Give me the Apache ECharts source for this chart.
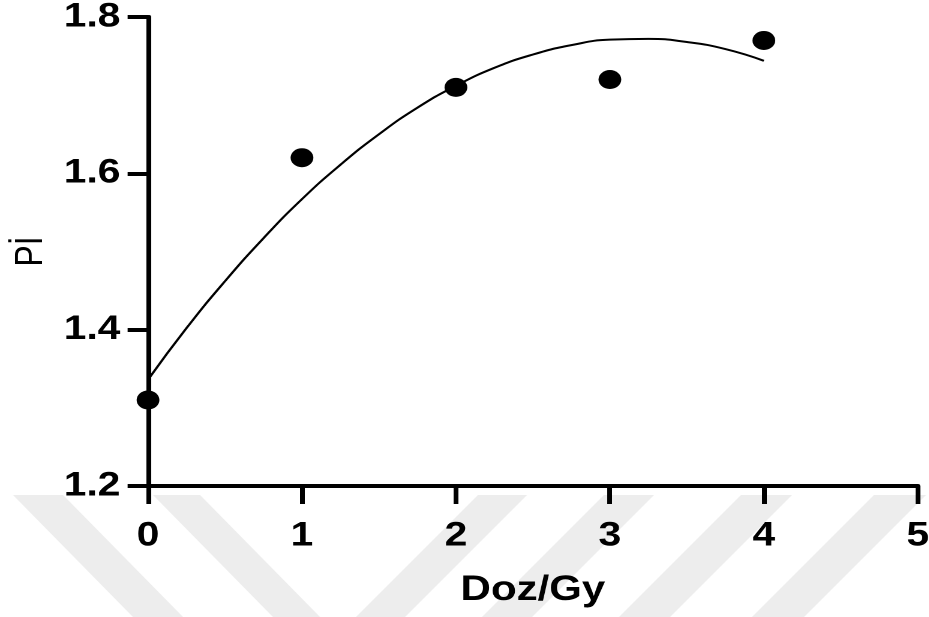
<!DOCTYPE html>
<html>
<head>
<meta charset="utf-8">
<script src="https://cdn.jsdelivr.net/npm/echarts@6/dist/echarts.min.js"></script>
<style>
  html, body { margin: 0; padding: 0; background: #fff; overflow: hidden; }
  #wrap { width: 929px; height: 617px; overflow: hidden; position: relative; }
  /* the figure is laid out narrower and stretched horizontally */
  #chart { width: 774.17px; height: 617px; transform: scaleX(1.2); transform-origin: 0 0; }
</style>
</head>
<body>
<div id="wrap"><div id="chart"></div></div>
<script>
// Measured points
const doses = [0, 1, 2, 3, 4];
const piValues = [1.31, 1.62, 1.71, 1.72, 1.77];

// Fitted (second order) curve, sampled along the dose axis
const fitDoses = [0, 0.25, 0.5, 0.75, 1, 1.25, 1.5, 1.75, 2, 2.25, 2.5, 2.75, 3, 3.25, 3.5, 3.75, 4];
const fitValues = [1.336, 1.402, 1.462, 1.517, 1.567, 1.611, 1.650, 1.684, 1.712, 1.735, 1.752, 1.764, 1.771, 1.772, 1.768, 1.759, 1.744];

// Axis ticks
const xTicks = [0, 1, 2, 3, 4, 5];
const yTicks = [1.2, 1.4, 1.6, 1.8];

const SX = 1.2; // horizontal stretch applied to the chart box
const FONT = '"Liberation Sans", Arial, sans-serif';

// Light grey chevron band along the bottom edge (page pixels)
const bandTop = 495, bandBottom = 640;
function band(xl, xr, shift) {
  const k = (bandBottom - bandTop) / 122;
  return [
    [xl / SX, bandTop], [xr / SX, bandTop],
    [(xr + shift * k) / SX, bandBottom], [(xl + shift * k) / SX, bandBottom]
  ];
}
const bands = [
  band(13, 63, 120), band(153, 200, 120),
  band(478, 527, -122), band(604, 654, -122), band(741, 792, -122), band(874, 926, -122)
];

const chart = echarts.init(document.getElementById('chart'), null, { renderer: 'canvas', devicePixelRatio: 2 });

chart.setOption({
  animation: false,
  backgroundColor: '#fff',
  graphic: bands.map(pts => ({
    type: 'polygon', z: -10, silent: true,
    shape: { points: pts },
    style: { fill: '#ededed' }
  })),
  grid: {
    left: 148 / SX, right: 11 / SX, top: 17, bottom: 131,
    containLabel: false, outerBoundsMode: 'none'
  },
  xAxis: {
    type: 'value',
    min: xTicks[0], max: xTicks[xTicks.length - 1], interval: xTicks[1] - xTicks[0],
    name: 'Doz/Gy', nameLocation: 'middle', nameGap: 87,
    nameTextStyle: { fontFamily: FONT, fontWeight: 'bold', fontSize: 35, color: '#000' },
    axisLine: { show: true, onZero: false, lineStyle: { color: '#000', width: 4 } },
    axisTick: { show: true, length: 18, lineStyle: { color: '#000', width: 4 } },
    axisLabel: { margin: 33, fontFamily: FONT, fontWeight: 'bold', fontSize: 34, color: '#000' },
    splitLine: { show: false }
  },
  yAxis: {
    type: 'value',
    min: yTicks[0], max: yTicks[yTicks.length - 1], interval: 0.2,
    name: 'Pİ', nameLocation: 'middle', nameGap: 78, nameRotate: 90,
    nameTextStyle: { fontFamily: FONT, fontWeight: 'normal', fontSize: 32, color: '#000' },
    axisLine: { show: true, onZero: false, lineStyle: { color: '#000', width: 4 } },
    axisTick: { show: true, length: 17, lineStyle: { color: '#000', width: 4 } },
    axisLabel: {
      margin: 23, fontFamily: FONT, fontWeight: 'bold', fontSize: 34, color: '#000',
      formatter: v => v.toFixed(1)
    },
    splitLine: { show: false }
  },
  series: [
    {
      type: 'line',
      data: fitDoses.map((d, i) => [d, fitValues[i]]),
      smooth: true, showSymbol: false, symbol: 'none',
      lineStyle: { color: '#000', width: 2 },
      z: 3
    },
    {
      type: 'scatter',
      data: doses.map((d, i) => [d, piValues[i]]),
      symbol: 'circle', symbolSize: 19,
      itemStyle: { color: '#000', opacity: 1 },
      z: 4
    }
  ]
});
</script>
</body>
</html>
